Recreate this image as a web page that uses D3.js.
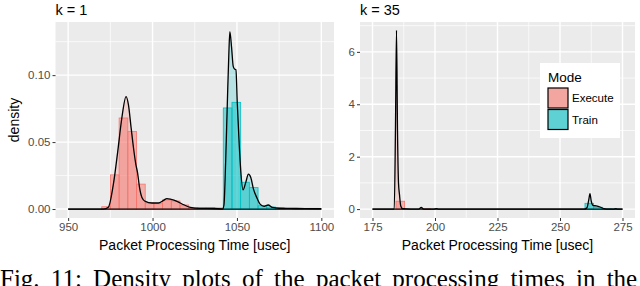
<!DOCTYPE html>
<html>
<head>
<meta charset="utf-8">
<style>
  body { margin: 0; background: #fff; }
  svg { display: block; font-family: 'Liberation Sans', Arial, sans-serif; }
  .tick text { fill: #4d4d4d; font-size: 11.5px; }
  .tick line { stroke: #333; stroke-width: 1; }
  .domain { display: none; }
  .title { font-size: 14.5px; fill: #000; }
  .axis-title { font-size: 14px; fill: #000; }
  .caption { font-family: 'Liberation Serif', 'Times New Roman', serif; font-size: 25px; fill: #000; }
</style>
</head>
<body>
<svg width="640" height="286"></svg>
<script src="https://cdn.jsdelivr.net/npm/d3@7"></script>
<script>
// ---- data ----
const modes = ["Execute", "Train"]
const modeColors = ["#F8766D", "#00BFC4"]

// k = 1 panel
const leftTicksX = [950, 1000, 1050, 1100]
const leftTicksY = [0, 0.05, 0.10]
const leftBinWidth = 5.15
const execLeftBinX = [969.9, 975.05, 980.2, 985.35, 990.5, 995.65, 1000.8, 1005.95, 1011.1, 1016.25, 1021.4, 1026.55, 1031.7, 1036.85]
const execLeftBinY = [0.0017, 0.0255, 0.068, 0.058, 0.0186, 0.0045, 0.004, 0.0068, 0.006, 0.003, 0.001, 0.001, 0.001, 0.0008]
const trainLeftBinX = [1041.9, 1047.05, 1052.2, 1057.35, 1062.5, 1067.65, 1072.8, 1077.95, 1083.1, 1088.25, 1093.4]
const trainLeftBinY = [0.0755, 0.0797, 0.02, 0.016, 0.0025, 0.0015, 0.0008, 0.0005, 0.0005, 0.0005, 0.0005]
const execLeftDensX = [950, 971, 973.8, 976.8, 979.4, 981.8, 984.3, 985.7, 987.3, 988.7, 990.1, 991.1, 992.3, 993.7, 995.7, 999.6, 1003.5, 1006.5, 1008.5, 1011, 1014.5, 1018.5, 1022.4, 1028, 1036, 1042, 1100]
const execLeftDensY = [0, 0, 0.0013, 0.0186, 0.0433, 0.068, 0.084, 0.078, 0.0607, 0.0458, 0.0334, 0.0272, 0.016, 0.0087, 0.0057, 0.0045, 0.0045, 0.0065, 0.0078, 0.0072, 0.0057, 0.0032, 0.0012, 0.0005, 0.0004, 0, 0]
const trainLeftDensX = [950, 1041.5, 1042.3, 1043.3, 1044.3, 1045.2, 1045.8, 1046.8, 1047.8, 1048.6, 1049.4, 1050.2, 1051.2, 1052.2, 1053.6, 1055.2, 1056.8, 1058.2, 1059.8, 1061.7, 1063.7, 1066.1, 1068.5, 1071, 1075, 1085, 1100]
const trainLeftDensY = [0, 0, 0.003, 0.035, 0.079, 0.116, 0.1325, 0.121, 0.1065, 0.1045, 0.104, 0.079, 0.052, 0.0297, 0.0143, 0.0198, 0.026, 0.0235, 0.0149, 0.0087, 0.0037, 0.002, 0.003, 0.0012, 0.0006, 0.0004, 0.0002]

// k = 35 panel
const rightTicksX = [175, 200, 225, 250, 275]
const rightTicksY = [0, 2, 4, 6]
const rightBinWidth = 3.45
const execRightBinX = [184.4, 194.75]
const execRightBinY = [0.3, 0.005]
const trainRightBinX = [260.0, 263.45, 266.9, 270.35]
const trainRightBinY = [0.22, 0.07, 0.008, 0.003]
const execRightDensX = [175, 183.7, 184.2, 184.6, 185.0, 185.4, 185.8, 186.3, 187, 193.5, 194.5, 195.5, 199.5, 200.5, 201.5, 275]
const execRightDensY = [0, 0, 3.2, 6.82, 3.0, 1.0, 0.55, 0.12, 0.02, 0, 0.06, 0, 0, 0.02, 0, 0]
const trainRightDensX = [175, 259.8, 260.8, 261.5, 262.0, 262.5, 263.2, 264.5, 266, 267.5, 268.5, 271.5, 272.3, 273, 275]
const trainRightDensY = [0, 0, 0.05, 0.35, 0.59, 0.3, 0.14, 0.12, 0.08, 0.02, 0, 0, 0.02, 0, 0]

const xTitle = "Packet Processing Time [usec]"
const captionText = "Fig. 11: Density plots of the packet processing times in the"

// ---- drawing ----
let svg = d3.select("svg")
let color = d3.scaleOrdinal().domain(modes).range(modeColors)

function zip(xs, ys) { return xs.map((x, i) => ({x: x, y: ys[i]})) }

function drawPanel(p) {
    let x = d3.scaleLinear().domain(p.xDomain).range([p.left, p.right])
    let y = d3.scaleLinear().domain(p.yDomain).range([p.bottom, p.top])
    let g = svg.append("g")

    g.append("rect")
        .attr("x", p.left).attr("y", p.top)
        .attr("width", p.right - p.left).attr("height", p.bottom - p.top)
        .attr("fill", "#EBEBEB")

    // minor grid halfway between majors
    let minorX = d3.pairs(p.ticksX).map(d => (d[0] + d[1]) / 2)
    let minorY = d3.pairs(p.ticksY).map(d => (d[0] + d[1]) / 2)
    let stepY = p.ticksY[1] - p.ticksY[0]
    minorY.push(p.ticksY[p.ticksY.length - 1] + stepY / 2)
    let stepX = p.ticksX[1] - p.ticksX[0]
    minorX.unshift(p.ticksX[0] - stepX / 2)
    minorX.push(p.ticksX[p.ticksX.length - 1] + stepX / 2)
    minorX = minorX.filter(v => v > p.xDomain[0] && v < p.xDomain[1])
    minorY = minorY.filter(v => v > p.yDomain[0] && v < p.yDomain[1])

    g.selectAll(".minor-x").data(minorX).join("line")
        .attr("x1", d => x(d)).attr("x2", d => x(d))
        .attr("y1", p.top).attr("y2", p.bottom)
        .attr("stroke", "#fff").attr("stroke-width", 0.7)
    g.selectAll(".minor-y").data(minorY).join("line")
        .attr("y1", d => y(d)).attr("y2", d => y(d))
        .attr("x1", p.left).attr("x2", p.right)
        .attr("stroke", "#fff").attr("stroke-width", 0.7)
    g.selectAll(".major-x").data(p.ticksX).join("line")
        .attr("x1", d => x(d)).attr("x2", d => x(d))
        .attr("y1", p.top).attr("y2", p.bottom)
        .attr("stroke", "#fff").attr("stroke-width", 1.4)
    g.selectAll(".major-y").data(p.ticksY).join("line")
        .attr("y1", d => y(d)).attr("y2", d => y(d))
        .attr("x1", p.left).attr("x2", p.right)
        .attr("stroke", "#fff").attr("stroke-width", 1.4)

    // histograms
    p.hists.forEach(h => {
        g.append("g").selectAll("rect").data(zip(h.x, h.y)).join("rect")
            .attr("x", d => x(d.x))
            .attr("width", x(p.xDomain[0] + p.binWidth) - x(p.xDomain[0]))
            .attr("y", d => y(d.y))
            .attr("height", d => y(0) - y(d.y))
            .attr("fill", color(h.mode)).attr("fill-opacity", 0.5)
            .attr("stroke", color(h.mode)).attr("stroke-width", 0.8)
    })

    // densities
    let area = d3.area().curve(d3.curveMonotoneX)
        .x(d => x(d.x)).y0(y(0)).y1(d => y(d.y))
    let line = d3.line().curve(d3.curveMonotoneX)
        .x(d => x(d.x)).y(d => y(d.y))
    p.dens.forEach(dn => {
        let pts = zip(dn.x, dn.y)
        g.append("path").attr("d", area(pts))
            .attr("fill", color(dn.mode)).attr("fill-opacity", 0.22)
        g.append("path").attr("d", line(pts))
            .attr("fill", "none").attr("stroke", "#000").attr("stroke-width", 1.3)
            .attr("stroke-linejoin", "round")
    })

    // axes
    svg.append("g")
        .attr("transform", `translate(${p.left},0)`)
        .call(d3.axisLeft(y).tickValues(p.ticksY).tickSize(3).tickPadding(2).tickFormat(p.fmtY))
    svg.append("g")
        .attr("transform", `translate(0,${p.bottom})`)
        .call(d3.axisBottom(x).tickValues(p.ticksX).tickSize(3).tickPadding(2).tickFormat(d3.format("d")))

    svg.append("text").attr("class", "title")
        .attr("x", p.left).attr("y", 15)
        .text(p.title)
    svg.append("text").attr("class", "axis-title")
        .attr("x", (p.left + p.right) / 2).attr("y", 250)
        .attr("text-anchor", "middle")
        .text(xTitle)
}

drawPanel({
    left: 55.5, right: 334, top: 22, bottom: 218,
    xDomain: [942.5, 1107.5], yDomain: [-0.0067, 0.1397],
    ticksX: leftTicksX, ticksY: leftTicksY, fmtY: d3.format(".2f"),
    binWidth: leftBinWidth,
    hists: [{mode: "Execute", x: execLeftBinX, y: execLeftBinY},
            {mode: "Train", x: trainLeftBinX, y: trainLeftBinY}],
    dens: [{mode: "Execute", x: execLeftDensX, y: execLeftDensY},
           {mode: "Train", x: trainLeftDensX, y: trainLeftDensY}],
    title: "k = 1"
})

drawPanel({
    left: 360, right: 635, top: 22, bottom: 218,
    xDomain: [170, 280], yDomain: [-0.34, 7.14],
    ticksX: rightTicksX, ticksY: rightTicksY, fmtY: d3.format("d"),
    binWidth: rightBinWidth,
    hists: [{mode: "Execute", x: execRightBinX, y: execRightBinY},
            {mode: "Train", x: trainRightBinX, y: trainRightBinY}],
    dens: [{mode: "Execute", x: execRightDensX, y: execRightDensY},
           {mode: "Train", x: trainRightDensX, y: trainRightDensY}],
    title: "k = 35"
})

// y title
svg.append("text").attr("class", "axis-title")
    .attr("transform", "translate(19,120) rotate(-90)")
    .attr("text-anchor", "middle")
    .text("density")

// legend
let legend = svg.append("g")
legend.append("rect")
    .attr("x", 540).attr("y", 63).attr("width", 80).attr("height", 75)
    .attr("fill", "#fff")
legend.append("text")
    .attr("x", 548).attr("y", 82)
    .attr("font-size", 13.5)
    .text("Mode")
let keys = legend.selectAll(".key").data(modes).join("g")
    .attr("transform", (d, i) => `translate(548,${88 + i * 21.5})`)
keys.append("rect")
    .attr("width", 20).attr("height", 20)
    .attr("fill", "#EBEBEB")
keys.append("rect")
    .attr("width", 20).attr("height", 20)
    .attr("fill", d => color(d)).attr("fill-opacity", 0.6)
    .attr("stroke", "#000").attr("stroke-width", 1.2)
keys.append("text")
    .attr("x", 24).attr("y", 14)
    .attr("font-size", 11.5)
    .text(d => d)

// caption (cut off at the bottom edge, as in the source figure)
svg.append("text").attr("class", "caption")
    .attr("x", 0).attr("y", 287)
    .attr("word-spacing", 5)
    .text(captionText)
</script>
</body>
</html>
